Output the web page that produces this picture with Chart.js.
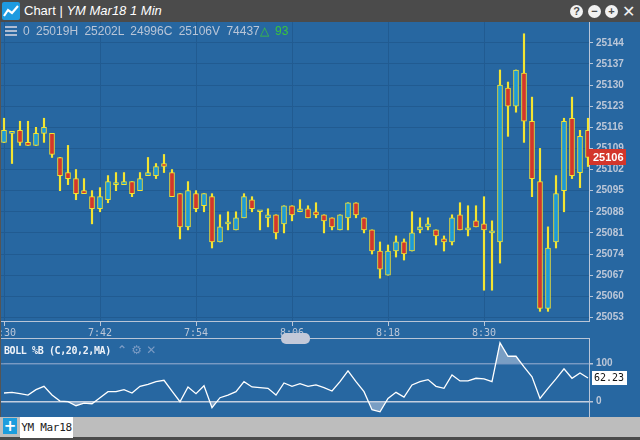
<!DOCTYPE html>
<html lang="en">
<head>
<meta charset="UTF-8">
<title>Chart | YM Mar18 1 Min</title>
<style>
  body { margin: 0; width: 640px; height: 440px; overflow: hidden; position: relative;
         background: #4b4b4b; font-family: 'Liberation Sans', Arial, sans-serif; }
  .abs { position: absolute; }
  .titlebar { left: 0; top: 0; width: 640px; height: 22px; background: #4b4b4b; }
  .title { left: 24px; top: 3px; color: #fff; font-size: 13px; white-space: pre; }
  .title i { font-style: italic; }
  .ctl { top: 5px; width: 13px; height: 13px; border-radius: 50%; background: #f2f2f2; color: #4b4b4b;
         font: bold 11px/13px 'Liberation Sans', Arial, sans-serif; text-align: center; }
  .panel { left: 0; top: 22px; width: 640px; height: 395px; background: #2767a1; }
  canvas { position: absolute; left: 0; }
  .burger { left: 5px; width: 12px; height: 2px; background: #aebcd2; }
  .legend { left: 23px; top: 24px; font-size: 12px; color: #b9c5d7; white-space: pre; word-spacing: 3px; }
  .legend span { color: #3cc43c; }
  .handle { left: 281px; top: 333px; width: 29px; height: 11px; border-radius: 5px; background: #c3c9d9; }
  .sep { left: 0; top: 338px; width: 589px; height: 1px; background: #b9c5d7; }
  .study { left: 4px; top: 345px; color: #eef2f8; font: bold 10px 'DejaVu Sans Mono', monospace;
           letter-spacing: -0.4px; white-space: pre; }
  .study-icons { left: 117px; top: 343px; color: #7b9bc4; font: bold 12px 'DejaVu Sans', sans-serif; white-space: pre; }
  .footer { left: 0; top: 417px; width: 640px; height: 20px; background: #bdbdbd; }
  .plus { left: 3px; top: 418px; width: 14px; height: 16px; background: #1d9ddd; color: #fff;
          font: bold 15px/16px 'DejaVu Sans', sans-serif; text-align: center; }
  .tab { left: 20px; top: 417px; width: 53px; height: 21px; background: #fff; color: #222;
         font: 11px/21px 'DejaVu Sans Mono', monospace; text-align: center; letter-spacing: -0.3px; }
  .edge { left: 0; top: 22px; width: 1px; height: 395px; background: #555; }
</style>
<script src="https://cdn.jsdelivr.net/npm/chart.js"></script>
</head>
<body>
  <div class="abs titlebar"></div>
  <svg class="abs" style="left:2px;top:2px" width="18" height="18">
    <rect width="18" height="18" rx="2" fill="#1e9be0"/>
    <polyline points="2,14 6,8 10,11 16,4" fill="none" stroke="#fff" stroke-width="2.2"/>
  </svg>
  <div class="abs title">Chart | <i>YM Mar18 1 Min</i></div>
  <div class="abs ctl" style="left:570px">?</div>
  <div class="abs ctl" style="left:588px">&minus;</div>
  <div class="abs ctl" style="left:605px">+</div>
  <div class="abs" style="left:622px;top:2px;color:#f2f2f2;font:bold 16px 'DejaVu Sans',sans-serif">&#x2715;</div>

  <div class="abs panel"></div>
  <canvas id="priceChart" width="640" height="316" style="top:22px"></canvas>
  <canvas id="bollChart" width="640" height="79" style="top:338px"></canvas>

  <div class="abs burger" style="top:26px"></div>
  <div class="abs burger" style="top:30px"></div>
  <div class="abs burger" style="top:34px"></div>
  <div class="abs legend">0 25019H 25202L 24996C 25106V 74437<span>&#x25B3; 93</span></div>

  <div class="abs sep"></div>
  <div class="abs handle"></div>
  <div class="abs study">BOLL %B (C,20,2,MA)</div>
  <div class="abs study-icons">&#x2303; &#x2699; &#x2715;</div>

  <div class="abs footer"></div>
  <div class="abs plus">+</div>
  <div class="abs tab">YM Mar18</div>
  <div class="abs edge"></div>

<script>
// one candle per minute, 7:30 .. 8:43
const opens = [25111, 25114, 25115, 25111, 25110, 25114, 25114, 25106, 25101, 25099,
  25095, 25093, 25089, 25092, 25097, 25097, 25098, 25095, 25100, 25100,
  25104, 25101, 25094, 25083, 25094, 25090, 25093, 25078, 25084, 25082,
  25086, 25092, 25088, 25086, 25087, 25084, 25090, 25088, 25089, 25088,
  25087, 25086, 25082, 25086, 25091, 25086, 25082, 25075, 25067, 25075,
  25078, 25075, 25082, 25083, 25082, 25079, 25078, 25087, 25082, 25085,
  25084, 25081, 25078, 25129, 25123, 25134, 25118, 25098, 25056, 25078,
  25095, 25119, 25101, 25115];
const highs = [25119, 25114, 25118, 25118, 25116, 25119, 25114, 25106, 25110, 25102,
  25099, 25095, 25096, 25100, 25101, 25101, 25098, 25101, 25106, 25104,
  25107, 25102, 25094, 25098, 25095, 25094, 25094, 25087, 25088, 25088,
  25094, 25093, 25088, 25089, 25087, 25090, 25090, 25092, 25090, 25091,
  25087, 25086, 25087, 25091, 25091, 25086, 25082, 25078, 25077, 25080,
  25079, 25088, 25086, 25086, 25082, 25080, 25087, 25091, 25090, 25090,
  25093, 25085, 25135, 25131, 25135, 25147, 25126, 25109, 25083, 25100,
  25119, 25126, 25115, 25119];
const lows = [25111, 25104, 25110, 25110, 25110, 25111, 25106, 25095, 25097, 25092,
  25094, 25084, 25088, 25091, 25095, 25097, 25093, 25095, 25100, 25099,
  25101, 25093, 25079, 25082, 25088, 25088, 25076, 25078, 25082, 25082,
  25086, 25088, 25082, 25083, 25079, 25081, 25085, 25088, 25086, 25086,
  25081, 25082, 25082, 25082, 25086, 25081, 25074, 25066, 25067, 25073,
  25072, 25075, 25081, 25082, 25077, 25075, 25077, 25082, 25080, 25083,
  25062, 25062, 25071, 25113, 25121, 25111, 25093, 25055, 25055, 25076,
  25088, 25099, 25096, 25103];
const closes = [25115, 25114, 25111, 25110, 25114, 25116, 25107, 25100, 25099, 25094,
  25094, 25089, 25093, 25098, 25097, 25098, 25094, 25099, 25101, 25103,
  25103, 25093, 25083, 25095, 25089, 25094, 25078, 25083, 25084, 25086,
  25093, 25089, 25088, 25087, 25081, 25090, 25087, 25089, 25086, 25087,
  25085, 25083, 25087, 25091, 25087, 25082, 25075, 25069, 25075, 25078,
  25074, 25081, 25083, 25084, 25080, 25078, 25086, 25082, 25082, 25083,
  25082, 25081, 25130, 25123, 25135, 25118, 25099, 25056, 25076, 25094,
  25118, 25100, 25113, 25106];
// Bollinger %B (C,20,2,MA)
const pctB = [22.8, 24.6, 21, 17.5, 31.6, 40.4, 17.5, 1.8, 0, -10.5,
  -3.5, -5.3, 10.5, 26.3, 26.3, 31.6, 22.8, 40.4, 45.6, 52.6,
  56, 28, 0, 38.6, 21, 42, -15.8, 10.5, 17.5, 26.3,
  52.6, 38.6, 36.8, 35, 17.5, 49, 40.4, 47.4, 40.4, 43.9,
  36.8, 28, 52.6, 80.7, 52.6, 26.3, -21, -26.3, 8.8, 24.6,
  12.3, 43.9, 52.6, 57.9, 40.4, 35, 70.2, 54.4, 54.4, 61.4,
  59.6, 52.6, 154, 119, 119, 91, 65, 8.8, 35, 59.6,
  86, 61.4, 75.4, 62.23];
const timeTickIdx = [0, 12, 24, 36, 48, 60];
const timeTickLabels = ['7:30', '7:42', '7:54', '8:06', '8:18', '8:30'];
const priceTicks = [25053, 25060, 25067, 25074, 25081, 25088, 25095, 25102, 25109, 25116, 25123, 25130, 25137, 25144];
const bollTicks = [0, 100];

const yellow = '#f3e432';
const upFill = '#1b9ad8';
const downFill = '#d3362b';
const gridColor = '#215b91';
const axisColor = '#b9c5d7';
const labelColor = '#bcc7d8';
const last = closes.length - 1;
const idx = closes.map((_, i) => i);

const xScale = {
  type: 'linear', min: -0.5, max: 73.125, offset: false,
  grid: { offset: false, color: gridColor, tickColor: axisColor, tickLength: 5 },
  border: { color: axisColor },
  ticks: {
    color: labelColor, padding: 1, autoSkip: false, maxRotation: 0,
    font: { family: 'DejaVu Sans Mono', size: 10 },
    callback: v => timeTickLabels[timeTickIdx.indexOf(v)]
  },
  afterBuildTicks: s => { s.ticks = timeTickIdx.map(v => ({ value: v })); },
  afterFit: s => { s.height = 17; s.paddingLeft = 0; s.paddingRight = 0; }
};

const lastPriceTag = {
  id: 'lastPriceTag',
  afterDraw(chart) {
    const { ctx, chartArea } = chart;
    const y = chart.scales.y.getPixelForValue(closes[last]);
    ctx.save();
    ctx.fillStyle = downFill;
    ctx.fillRect(chartArea.right, Math.round(y) - 8, 37, 16);
    ctx.fillStyle = '#fff';
    ctx.font = 'bold 11px "Liberation Sans"';
    ctx.textBaseline = 'middle';
    ctx.fillText(String(closes[last]), chartArea.right + 4, Math.round(y) + 0.5);
    ctx.restore();
  }
};

new Chart(document.getElementById('priceChart'), {
  type: 'bar',
  data: {
    datasets: [{
      label: 'range',
      data: idx.map(i => ({ x: i, y: [lows[i], highs[i]] })),
      backgroundColor: yellow,
      barThickness: 1.5,
      grouped: false,
      order: 2
    }, {
      label: 'body',
      data: idx.map(i => ({ x: i, y: [opens[i], closes[i]] })),
      backgroundColor: idx.map(i => closes[i] < opens[i] ? downFill : upFill),
      borderColor: yellow,
      borderWidth: 1,
      borderSkipped: false,
      barThickness: 5,
      minBarLength: 2,
      grouped: false,
      order: 1
    }]
  },
  options: {
    responsive: false,
    animation: false,
    layout: { padding: 0 },
    plugins: { legend: { display: false }, tooltip: { enabled: false } },
    scales: {
      x: xScale,
      y: {
        position: 'right', min: 25051.8, max: 25150.9,
        grid: { color: gridColor, tickColor: axisColor, tickLength: 4 },
        border: { color: axisColor },
        ticks: {
          color: labelColor, padding: 3,
          font: { family: 'Liberation Sans', size: 10, weight: 'bold' },
          callback: v => String(v)
        },
        afterBuildTicks: s => { s.ticks = priceTicks.map(v => ({ value: v })); },
        afterFit: s => { s.width = 51; s.paddingTop = 0; s.paddingBottom = 0; }
      }
    }
  },
  plugins: [lastPriceTag]
});

const bandFill = 'rgba(190, 204, 226, 0.55)';

const lastValueTag = {
  id: 'lastValueTag',
  afterDraw(chart) {
    const { ctx, chartArea } = chart;
    const y = Math.round(chart.scales.y.getPixelForValue(pctB[last]));
    ctx.save();
    ctx.fillStyle = '#fff';
    ctx.fillRect(chartArea.right + 3, y - 7, 35, 14);
    ctx.fillStyle = '#111';
    ctx.font = '10px "DejaVu Sans Mono"';
    ctx.textBaseline = 'middle';
    ctx.fillText(pctB[last].toFixed(2), chartArea.right + 5, y + 0.5);
    ctx.restore();
  }
};

new Chart(document.getElementById('bollChart'), {
  type: 'line',
  data: {
    datasets: [{
      label: '%B',
      data: idx.map(i => ({ x: i, y: pctB[i] })),
      borderColor: '#ffffff',
      borderWidth: 1.3,
      pointRadius: 0,
      tension: 0,
      fill: { target: { value: 100 }, above: bandFill, below: 'rgba(0,0,0,0)' }
    }, {
      label: '%B low',
      data: idx.map(i => ({ x: i, y: pctB[i] })),
      borderWidth: 0,
      pointRadius: 0,
      tension: 0,
      fill: { target: { value: 0 }, above: 'rgba(0,0,0,0)', below: bandFill }
    }]
  },
  options: {
    responsive: false,
    animation: false,
    layout: { padding: 0 },
    plugins: { legend: { display: false }, tooltip: { enabled: false } },
    scales: {
      x: { type: 'linear', min: -0.5, max: 73.125, display: false },
      y: {
        position: 'right', min: -40, max: 166.8,
        grid: {
          color: c => c.tick && c.tick.value === 100 ? '#6f93bf' : '#c6d0e0',
          lineWidth: 1.5, tickColor: axisColor, tickLength: 4
        },
        border: { color: axisColor },
        ticks: {
          color: labelColor, padding: 3,
          font: { family: 'Liberation Sans', size: 10, weight: 'bold' },
          callback: v => String(v)
        },
        afterBuildTicks: s => { s.ticks = bollTicks.map(v => ({ value: v })); },
        afterFit: s => { s.width = 51; s.paddingTop = 0; s.paddingBottom = 0; }
      }
    }
  },
  plugins: [lastValueTag]
});
</script>
</body>
</html>
